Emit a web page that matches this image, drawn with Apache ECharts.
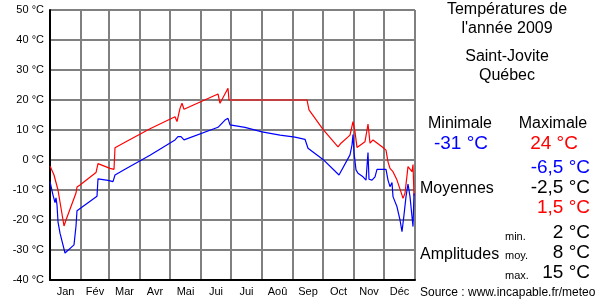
<!DOCTYPE html>
<html>
<head>
<meta charset="utf-8">
<script src="https://cdn.jsdelivr.net/npm/echarts@6/dist/echarts.min.js"></script>
<style>html,body{margin:0;padding:0;background:#fff}#c{width:600px;height:300px}</style>
</head>
<body>
<div id="c"></div>
<script>
const months = ['Jan','Fév','Mar','Avr','Mai','Jui','Jui','Aoû','Sep','Oct','Nov','Déc'];
const monthStarts = [0,31,59,90,120,151,181,212,243,273,304,334,365];
const yTicks = [-40,-30,-20,-10,0,10,20,30,40,50];

const maxDays  = [0,4,8,14,16,26,27,30,46,48,60,64,65,75,100,125,127,130,132,134,168,170,178,179,257,259,273,288,289,291,300,302,303,305,307,315,317,318,319,320,323,332,336,338,340,343,347,352,353,355,358,362,363,364];
const maxTemps = [-2,-5,-10,-22,-20,-11,-9,-8.3,-4.2,-1.2,-2.8,-3.1,4.1,5.9,10.4,14.4,12.8,17.2,18.9,16.9,22,18.9,23.9,20,20,16.7,10.2,4.4,3.9,5.6,8.3,8.9,12.8,9.4,4.2,6.1,10,12,8.9,5.6,6.7,4.4,3.3,-0.6,-2.8,-3.9,-6.7,-11.7,-12.8,-11.1,-2.2,-3.9,-1.5,-12];

const minDays  = [0,3,5,6,7,8,10,15,24,26,27,47,48,58,63,65,75,100,125,128,131,134,168,175,178,180,195,212,230,245,255,258,273,289,300,302,303,304,306,308,313,316,318,319,322,325,327,336,338,340,342,343,347,350,352,354,356,358,360,362,363,364];
const minTemps = [-7.2,-11.7,-14.2,-12.6,-15,-20.6,-24.4,-31,-28.3,-22,-16.9,-12.1,-6.3,-6.8,-7.2,-5,-3.1,1.6,6.7,7.8,7.8,6.7,10.9,13.3,13.9,11.7,10.9,9.4,8.3,7.6,6.9,3.9,0.2,-5,1.7,5,8.5,2.5,-3.3,-4.4,-5.6,-6.7,2.5,-6.4,-6.7,-5.6,-3.1,-3.1,-6.7,-8.9,-7.5,-12.2,-15.6,-20,-23.9,-18.3,-12.2,-8,-12.2,-18.9,-22.2,-11.1];

const monthCenters = months.map((m, i) => (monthStarts[i] + monthStarts[i + 1]) / 2);
const zip = (a, b) => a.map((d, i) => [d, b[i]]);

const chart = echarts.init(document.getElementById('c'), null, {renderer: 'canvas'});
const FONT = '"Liberation Sans", Arial, sans-serif';
const txt = (text, x, y, opts) => ({
  type: 'text', z: 10,
  style: Object.assign({text: text, x: x, y: y, align: 'center', verticalAlign: 'middle',
    fill: '#000', font: '16px ' + FONT}, opts || {})
});

chart.setOption({
  animation: false,
  backgroundColor: '#fff',
  grid: {left: 50, right: 185, top: 10, bottom: 20, containLabel: false},
  xAxis: {
    type: 'value', min: 0, max: 365,
    axisLine: {show: true, onZero: false, lineStyle: {color: '#000', width: 2}},
    axisTick: {show: false, customValues: monthStarts},
    axisLabel: {
      customValues: monthCenters, margin: 6, fontSize: 11, color: '#000', fontFamily: FONT,
      formatter: v => { const i = monthCenters.indexOf(v); return i >= 0 ? months[i] : ''; }
    },
    splitLine: {show: true, lineStyle: {color: '#808080', width: 2}}
  },
  yAxis: {
    type: 'value', min: -40, max: 50, interval: 10,
    axisLine: {show: true, lineStyle: {color: '#000', width: 2}},
    axisTick: {show: false},
    axisLabel: {margin: 6, fontSize: 11, color: '#000', fontFamily: FONT, formatter: v => v + ' °C'},
    splitLine: {show: true, lineStyle: {color: '#808080', width: 2}}
  },
  series: [
    {type: 'line', data: zip(maxDays, maxTemps), showSymbol: false, lineStyle: {color: '#ff0000', width: 1.2}, z: 5},
    {type: 'line', data: zip(minDays, minTemps), showSymbol: false, lineStyle: {color: '#0000ff', width: 1.2}, z: 5}
  ],
  graphic: [
    txt('Températures de', 507, 10),
    txt("l'année 2009", 507, 29),
    txt('Saint-Jovite', 507, 57),
    txt('Québec', 507, 76),
    txt('Minimale', 460, 124),
    txt('Maximale', 553, 124),
    txt('-31 °C', 461, 144, {fill: '#0000ff', font: '19px ' + FONT}),
    txt('24 °C', 554, 144, {fill: '#ff0000', font: '19px ' + FONT}),
    txt('-6,5 °C', 590, 168, {align: 'right', fill: '#0000ff', font: '19px ' + FONT}),
    txt('-2,5 °C', 590, 188, {align: 'right', font: '19px ' + FONT}),
    txt('1,5 °C', 590, 208, {align: 'right', fill: '#ff0000', font: '19px ' + FONT}),
    txt('Moyennes', 420, 189, {align: 'left', font: '16px ' + FONT}),
    txt('min.', 505, 237, {align: 'left', font: '11px ' + FONT}),
    txt('moy.', 505, 256, {align: 'left', font: '11px ' + FONT}),
    txt('max.', 505, 276, {align: 'left', font: '11px ' + FONT}),
    txt('2 °C', 590, 233, {align: 'right', font: '19px ' + FONT}),
    txt('8 °C', 590, 253, {align: 'right', font: '19px ' + FONT}),
    txt('15 °C', 590, 273, {align: 'right', font: '19px ' + FONT}),
    txt('Amplitudes', 420, 255, {align: 'left', font: '16px ' + FONT}),
    txt('Source : www.incapable.fr/meteo', 420, 293, {align: 'left', font: '12px ' + FONT})
  ]
});
</script>
</body>
</html>
